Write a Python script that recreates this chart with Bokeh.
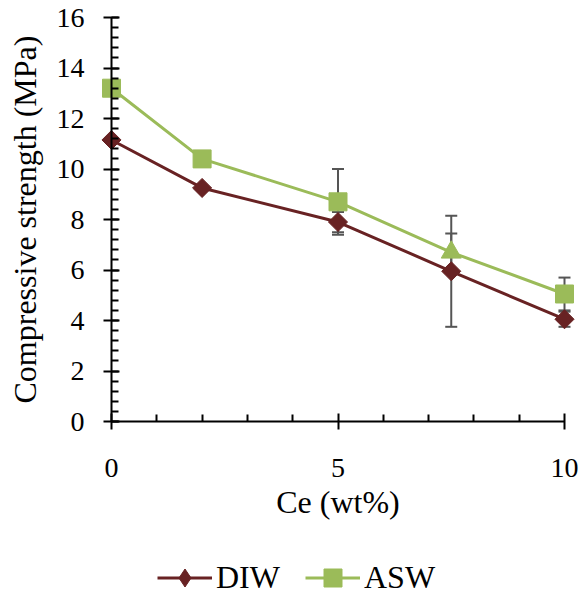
from math import pi
from bokeh.plotting import figure
from bokeh.models import (Range1d, FixedTicker, Whisker, ColumnDataSource, Legend,
                          LegendItem, TeeHead, CDSView, IndexFilter)
from bokeh.embed import file_html
from bokeh.resources import INLINE

# ---- data ----
ce = [0, 2, 5, 7.5, 10]
diw = [11.15, 9.25, 7.9, 5.95, 4.05]
asw = [13.2, 10.4, 8.7, 6.7, 5.05]
diw_err = [0, 0, 0.4, 2.2, 0.3]
asw_err = [0, 0, 1.3, 0.75, 0.65]
asw_marker = ["square", "square", "square", "triangle", "square"]

x_ticks = [0, 5, 10]
x_minor = [1, 2, 3, 4, 6, 7, 8, 9]
y_ticks = [0, 2, 4, 6, 8, 10, 12, 14, 16]
y_minor = [round(i * 0.4, 1) for i in range(41)]

DIW_COLOR = "#682223"
ASW_COLOR = "#9bbb59"
ERR_COLOR = "#555555"
FONT = "Liberation Serif"

W, H = 581, 596
X0_PX, Y0_PX = 111, 421          # pixel position of the data origin
PX_X, PX_Y = 45.3, 25.25         # pixels per data unit
x_start = -X0_PX / PX_X
x_end = (W - X0_PX) / PX_X
y_start = -(H - Y0_PX) / PX_Y
y_end = Y0_PX / PX_Y

p = figure(width=W, height=H, x_range=Range1d(x_start, x_end), y_range=Range1d(y_start, y_end),
           output_backend="svg", toolbar_location=None,
           min_border_left=0, min_border_right=0, min_border_top=0, min_border_bottom=0)
p.outline_line_color = None
p.xgrid.grid_line_color = None
p.ygrid.grid_line_color = None
p.background_fill_color = "white"
p.border_fill_color = "white"

# axes (crossing at the origin)
xa = p.xaxis[0]
xa.ticker = FixedTicker(ticks=x_ticks, minor_ticks=x_minor)
xa.bounds = (0, 10)
xa.fixed_location = 0
xa.axis_label = "Ce (wt%)"
ya = p.yaxis[0]
ya.ticker = FixedTicker(ticks=y_ticks, minor_ticks=y_minor)
ya.bounds = (0, 16)
ya.fixed_location = 0
ya.axis_label = "Compressive strength (MPa)"

for ax in (xa, ya):
    ax.axis_line_color = "black"
    ax.axis_line_width = 2
    ax.major_tick_line_color = "black"
    ax.major_tick_line_width = 2
    ax.minor_tick_line_color = "black"
    ax.minor_tick_line_width = 2
    ax.major_tick_in = 8
    ax.major_tick_out = 8
    ax.minor_tick_in = 7
    ax.minor_tick_out = 0
    ax.major_label_text_font = FONT
    ax.major_label_text_font_size = "28px"
    ax.major_label_text_color = "black"
    ax.axis_label_text_font = FONT
    ax.axis_label_text_font_size = "32px"
    ax.axis_label_text_font_style = "normal"
    ax.axis_label_text_color = "black"

xa.major_label_standoff = 29
xa.axis_label_standoff = 4
ya.major_label_standoff = 19
ya.axis_label_standoff = 11

# error bars
upper = [v + e for v, e in zip(diw, diw_err)] + [v + e for v, e in zip(asw, asw_err)]
lower = [v - e for v, e in zip(diw, diw_err)] + [v - e for v, e in zip(asw, asw_err)]
keep = [i for i in range(len(upper)) if upper[i] != lower[i]]
xs_all = ce + ce
err_src = ColumnDataSource(dict(x=[xs_all[i] for i in keep],
                                upper=[upper[i] for i in keep],
                                lower=[lower[i] for i in keep]))
w = Whisker(base="x", upper="upper", lower="lower", source=err_src,
            line_color=ERR_COLOR, line_width=2,
            upper_head=TeeHead(size=12, line_color=ERR_COLOR, line_width=2),
            lower_head=TeeHead(size=12, line_color=ERR_COLOR, line_width=2))
p.add_layout(w)

# series
diw_src = ColumnDataSource(dict(x=ce, y=diw))
asw_src = ColumnDataSource(dict(x=ce, y=asw, m=asw_marker))

diw_line = p.line("x", "y", source=diw_src, line_color=DIW_COLOR, line_width=3)
# diamond key for the legend (one small point, hidden inside the first rotated square)
diw_key = p.scatter("x", "y", source=diw_src, view=CDSView(filter=IndexFilter([0])),
                    marker="diamond", size=10, fill_color=DIW_COLOR, line_color=DIW_COLOR)
diw_pts = p.scatter("x", "y", source=diw_src, marker="square", angle=pi / 4, size=13.5,
                    fill_color=DIW_COLOR, line_color=DIW_COLOR)
asw_line = p.line("x", "y", source=asw_src, line_color=ASW_COLOR, line_width=3)
sq_idx = [i for i, m in enumerate(asw_marker) if m == "square"]
tr_idx = [i for i, m in enumerate(asw_marker) if m == "triangle"]
asw_sq = p.scatter("x", "y", source=asw_src, view=CDSView(filter=IndexFilter(sq_idx)),
                   marker="square", size=18, fill_color=ASW_COLOR, line_color=ASW_COLOR)
asw_tr = p.scatter("x", "y", source=asw_src, view=CDSView(filter=IndexFilter(tr_idx)),
                   marker="triangle", size=20, fill_color=ASW_COLOR, line_color=ASW_COLOR)

legend = Legend(items=[LegendItem(label="DIW", renderers=[diw_line, diw_key]),
                       LegendItem(label="ASW", renderers=[asw_line, asw_sq])],
                orientation="horizontal", location=(157, -4),
                label_text_font=FONT, label_text_font_size="32px", label_text_color="black",
                glyph_width=55, glyph_height=45, label_standoff=4, spacing=25,
                padding=0, margin=0, border_line_color=None, background_fill_alpha=0)
p.add_layout(legend)

open("out.html", "w").write(file_html(p, INLINE))
